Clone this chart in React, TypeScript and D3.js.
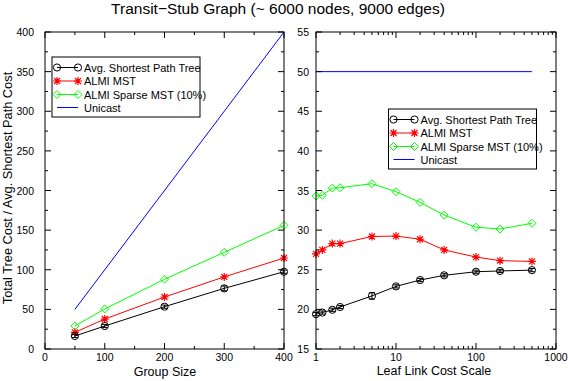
import React from "react";
import * as d3 from "d3";

const titleText = "Transit\u2212Stub Graph (~ 6000 nodes, 9000 edges)";
const yLabelText = "Total Tree Cost / Avg. Shortest Path Cost";
const leftXLabel = "Group Size";
const rightXLabel = "Leaf Link Cost Scale";

const seriesNames = ["Avg. Shortest Path Tree", "ALMI MST", "ALMI Sparse MST (10%)", "Unicast"];

// Left panel: group size
const groupSizes = [50, 100, 200, 300, 400];
const sptLeft = [16.4, 29, 53.4, 76.5, 97.5];
const sptLeftErr = [2, 2, 2, 3, 2];
const mstLeft = [21, 37.8, 65.6, 91, 114.8];
const sparseLeft = [29, 50.5, 88, 122, 156];
const unicastLeftX = [50, 400];
const unicastLeft = [50, 400];
const leftXTicks = [0, 100, 200, 300, 400];
const leftYTicks = [0, 50, 100, 150, 200, 250, 300, 350, 400];

// Right panel: leaf link cost scale
const costScales = [1, 1.2, 1.6, 2, 5, 10, 20, 40, 100, 200, 500];
const sptRight = [19.4, 19.6, 19.95, 20.3, 21.7, 22.9, 23.7, 24.3, 24.75, 24.85, 24.95];
const sptRightErr = [0.2, 0.2, 0.2, 0.2, 0.4, 0.2, 0.2, 0.2, 0.2, 0.2, 0.2];
const mstRight = [27.0, 27.5, 28.3, 28.3, 29.2, 29.25, 28.85, 27.5, 26.6, 26.15, 26.05];
const sparseRight = [34.3, 34.4, 35.3, 35.35, 35.86, 34.85, 33.5, 31.9, 30.36, 30.14, 30.86];
const unicastRightX = [1, 500];
const unicastRight = [50, 50];
const rightXTicks = [1, 10, 100, 1000];
const rightYTicks = [15, 20, 25, 30, 35, 40, 45, 50, 55];

const BLACK = "#000000";
const RED = "#ff0000";
const GREEN = "#00ff00";
const BLUE = "#0000ff";
const FONT = "'Liberation Sans', Arial, Helvetica, sans-serif";

type Marker = "circle" | "star" | "diamond" | "none";

function MarkerShape({ x, y, type, color }: { x: number; y: number; type: Marker; color: string }) {
  if (type === "circle") return <circle cx={x} cy={y} r={3.6} fill="none" stroke={color} strokeWidth={1} />;
  if (type === "diamond") {
    const s = 4;
    return <path d={`M${x},${y - s}L${x + s},${y}L${x},${y + s}L${x - s},${y}Z`} fill="none" stroke={color} strokeWidth={1} />;
  }
  if (type === "star") {
    const s = 4;
    const d = 3;
    return (
      <path
        d={`M${x - s},${y}L${x + s},${y}M${x},${y - s}L${x},${y + s}M${x - d},${y - d}L${x + d},${y + d}M${x - d},${y + d}L${x + d},${y - d}`}
        stroke={color}
        strokeWidth={1.2}
      />
    );
  }
  return null;
}

function Series({ xs, ys, xScale, yScale, color, marker, errs }: any) {
  const line = d3
    .line<number>()
    .x((_, i) => xScale(xs[i]))
    .y((d) => yScale(d));
  return (
    <g>
      <path d={line(ys) || ""} fill="none" stroke={color} strokeWidth={1} />
      {errs &&
        ys.map((v: number, i: number) => {
          const x = xScale(xs[i]);
          const y0 = yScale(v - errs[i]);
          const y1 = yScale(v + errs[i]);
          return (
            <path key={"e" + i} d={`M${x},${y0}L${x},${y1}M${x - 3},${y0}L${x + 3},${y0}M${x - 3},${y1}L${x + 3},${y1}`} stroke={color} strokeWidth={1} />
          );
        })}
      {marker !== "none" &&
        ys.map((v: number, i: number) => <MarkerShape key={i} x={xScale(xs[i])} y={yScale(v)} type={marker} color={color} />)}
    </g>
  );
}

function Legend({ x, y, w, h }: { x: number; y: number; w: number; h: number }) {
  const colors = [BLACK, RED, GREEN, BLUE];
  const markers: Marker[] = ["circle", "star", "diamond", "none"];
  const rowY = [10.5, 24, 37.5, 50.5];
  return (
    <g transform={`translate(${x},${y})`}>
      <rect x={0} y={0} width={w} height={h} fill="white" stroke="black" strokeWidth={1} />
      {seriesNames.map((n, i) => (
        <g key={n}>
          <line x1={5} x2={26} y1={rowY[i]} y2={rowY[i]} stroke={colors[i]} strokeWidth={1} />
          <MarkerShape x={5} y={rowY[i]} type={markers[i]} color={colors[i]} />
          <MarkerShape x={26} y={rowY[i]} type={markers[i]} color={colors[i]} />
          <text x={32} y={rowY[i] + 4} fontSize={11} fontFamily={FONT}>
            {n}
          </text>
        </g>
      ))}
    </g>
  );
}

export default function App() {
  const W = 568;
  const H = 381;
  const top = 32;
  const bottom = 349;

  const xL = d3.scaleLinear().domain([0, 400]).range([45, 284]);
  const yL = d3.scaleLinear().domain([0, 400]).range([bottom, top]);
  const xR = d3.scaleLog().domain([1, 1000]).range([316, 556]);
  const yR = d3.scaleLinear().domain([15, 55]).range([bottom, top]);

  const major = 6;
  const minor = 3;

  const leftMinorX = d3.range(50, 400, 100);
  const leftMinorY = d3.range(25, 400, 50);
  const rightMinorY = d3.range(17.5, 55, 5);
  const rightMinorX: number[] = [];
  [1, 10, 100].forEach((dec) => {
    for (let k = 2; k <= 9; k++) rightMinorX.push(dec * k);
  });

  const tickPaths: string[] = [];
  const addX = (xs: number[], sx: any, len: number) =>
    xs.forEach((v) => {
      const x = sx(v);
      tickPaths.push(`M${x},${bottom}L${x},${bottom - len}M${x},${top}L${x},${top + len}`);
    });
  const addY = (ys: number[], sy: any, x0: number, x1: number, len: number) =>
    ys.forEach((v) => {
      const y = sy(v);
      tickPaths.push(`M${x0},${y}L${x0 + len},${y}M${x1},${y}L${x1 - len},${y}`);
    });
  addX(leftXTicks, xL, major);
  addX(leftMinorX, xL, minor);
  addY(leftYTicks, yL, 45, 284, major);
  addY(leftMinorY, yL, 45, 284, minor);
  addX(rightXTicks, xR, major);
  addX(rightMinorX, xR, minor);
  addY(rightYTicks, yR, 316, 556, major);
  addY(rightMinorY, yR, 316, 556, minor);

  return (
    <svg width={W} height={H} style={{ position: "absolute", left: 0, top: 0, background: "white" }} fontFamily={FONT}>
      <rect width={W} height={H} fill="white" />
      <text x={278} y={13.5} textAnchor="middle" fontSize={15.5}>
        {titleText}
      </text>

      {/* Left panel */}
      <Series xs={unicastLeftX} ys={unicastLeft} xScale={xL} yScale={yL} color={BLUE} marker="none" />
      <Series xs={groupSizes} ys={sparseLeft} xScale={xL} yScale={yL} color={GREEN} marker="diamond" />
      <Series xs={groupSizes} ys={mstLeft} xScale={xL} yScale={yL} color={RED} marker="star" />
      <Series xs={groupSizes} ys={sptLeft} xScale={xL} yScale={yL} color={BLACK} marker="circle" errs={sptLeftErr} />

      {/* Right panel */}
      <Series xs={unicastRightX} ys={unicastRight} xScale={xR} yScale={yR} color={BLUE} marker="none" />
      <Series xs={costScales} ys={sparseRight} xScale={xR} yScale={yR} color={GREEN} marker="diamond" />
      <Series xs={costScales} ys={mstRight} xScale={xR} yScale={yR} color={RED} marker="star" />
      <Series xs={costScales} ys={sptRight} xScale={xR} yScale={yR} color={BLACK} marker="circle" errs={sptRightErr} />

      <path d={tickPaths.join("")} stroke="black" strokeWidth={1} fill="none" />
      <rect x={45} y={top} width={284 - 45} height={bottom - top} fill="none" stroke="black" strokeWidth={1} />
      <rect x={316} y={top} width={556 - 316} height={bottom - top} fill="none" stroke="black" strokeWidth={1} />

      {leftXTicks.map((t) => (
        <text key={"lx" + t} x={xL(t)} y={361} textAnchor="middle" fontSize={10.5}>
          {t}
        </text>
      ))}
      {leftYTicks.map((t) => (
        <text key={"ly" + t} x={34} y={yL(t) + 4} textAnchor="end" fontSize={10.5}>
          {t}
        </text>
      ))}
      {rightXTicks.map((t) => (
        <text key={"rx" + t} x={xR(t)} y={361} textAnchor="middle" fontSize={10.5}>
          {t}
        </text>
      ))}
      {rightYTicks.map((t) => (
        <text key={"ry" + t} x={309} y={yR(t) + 4} textAnchor="end" fontSize={10.5}>
          {t}
        </text>
      ))}

      <text x={165} y={376} textAnchor="middle" fontSize={12.5}>
        {leftXLabel}
      </text>
      <text x={434} y={374.5} textAnchor="middle" fontSize={12.5}>
        {rightXLabel}
      </text>
      <text transform={`translate(12,188) rotate(-90)`} textAnchor="middle" fontSize={12.8}>
        {yLabelText}
      </text>

      <Legend x={52} y={57} w={148} h={60} />
      <Legend x={388.5} y={109} w={148} h={60} />
    </svg>
  );
}
